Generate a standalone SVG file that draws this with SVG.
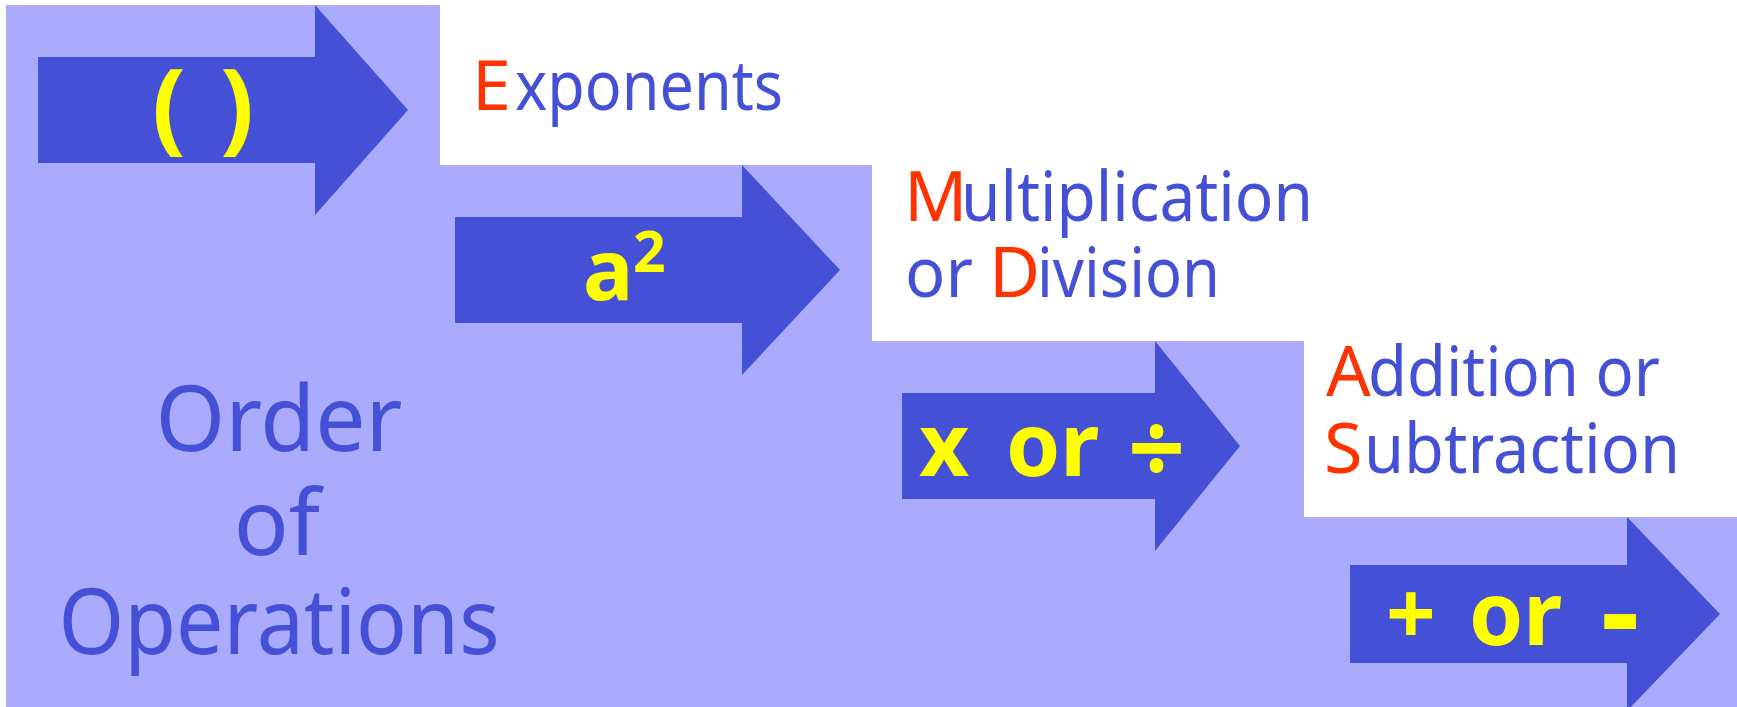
<svg xmlns="http://www.w3.org/2000/svg" width="1737" height="707" viewBox="0 0 1737 707">
  <style>
    .bg { fill: #AAABFD; }
    .arrow { fill: #4450D6; }
    .lbl { font-family: "Noto Sans", "Open Sans", sans-serif; font-size: 70px; fill: #4450D6; }
    .big { font-family: "Noto Sans", "Open Sans", sans-serif; font-size: 91px; fill: #4450D6; text-anchor: middle; }
    .red { fill: #FF3300; }
    .yel { font-family: "Noto Sans", "Open Sans", sans-serif; font-weight: bold; font-size: 87px; fill: #FFFF00; }
  </style>
  <rect width="1737" height="707" fill="#FFFFFF"/>
  <polygon id="background" class="bg" points="6,5 440,5 440,165 872,165 872,341 1304,341 1304,517 1737,517 1737,707 6,707"/>

  <g id="title">
    <text class="big" x="279" y="451" textLength="247" lengthAdjust="spacingAndGlyphs">Order</text>
    <text class="big" x="277" y="555">of</text>
    <text class="big" x="279" y="654" textLength="441" lengthAdjust="spacingAndGlyphs">Operations</text>
  </g>

  <g id="step-parentheses">
    <polygon class="arrow" points="38,57 315,57 315,5 408,110 315,215 315,163 38,163"/>
    <text class="yel" x="152" y="141" style="font-size:100px">(</text>
    <text class="yel" x="220" y="141" style="font-size:100px">)</text>
  </g>

  <g id="label-exponents">
    <text class="lbl red" x="472" y="110">E</text>
    <text class="lbl" x="515" y="110" textLength="268" lengthAdjust="spacingAndGlyphs">xponents</text>
  </g>

  <g id="step-exponents">
    <polygon class="arrow" points="455,217 742,217 742,165 840,270 742,375 742,323 455,323"/>
    <text class="yel" x="583" y="300" style="font-size:84px">a</text>
    <text class="yel" x="633" y="272" style="font-size:57px">2</text>
  </g>

  <g id="label-multiplication-division">
    <text class="lbl red" x="904" y="221">M</text>
    <text class="lbl" x="961" y="221" textLength="352" lengthAdjust="spacingAndGlyphs">ultiplication</text>
    <text class="lbl" x="905" y="297" textLength="68" lengthAdjust="spacingAndGlyphs">or</text>
    <text class="lbl red" x="989" y="297">D</text>
    <text class="lbl" x="1037" y="297" textLength="183" lengthAdjust="spacingAndGlyphs">ivision</text>
  </g>

  <g id="step-multiply-divide">
    <polygon class="arrow" points="902,393 1155,393 1155,341 1240,446 1155,551 1155,499 902,499"/>
    <text class="yel" x="919" y="476">x</text>
    <text class="yel" x="1006" y="476">or</text>
    <text class="yel" x="1128" y="484" style="font-size:100px">÷</text>
  </g>

  <g id="label-addition-subtraction">
    <text class="lbl red" x="1326" y="396">A</text>
    <text class="lbl" x="1368" y="396" textLength="292" lengthAdjust="spacingAndGlyphs">ddition or</text>
    <text class="lbl red" x="1324" y="473">S</text>
    <text class="lbl" x="1364" y="473" textLength="316" lengthAdjust="spacingAndGlyphs">ubtraction</text>
  </g>

  <g id="step-add-subtract">
    <polygon class="arrow" points="1350,565 1627,565 1627,517 1720,614 1627,711 1627,663 1350,663"/>
    <text class="yel" x="1386" y="645">+</text>
    <text class="yel" x="1469" y="645">or</text>
    <text class="yel" x="1601" y="654" style="font-size:120px">-</text>
  </g>

  <g id="connectors"></g>
</svg>
